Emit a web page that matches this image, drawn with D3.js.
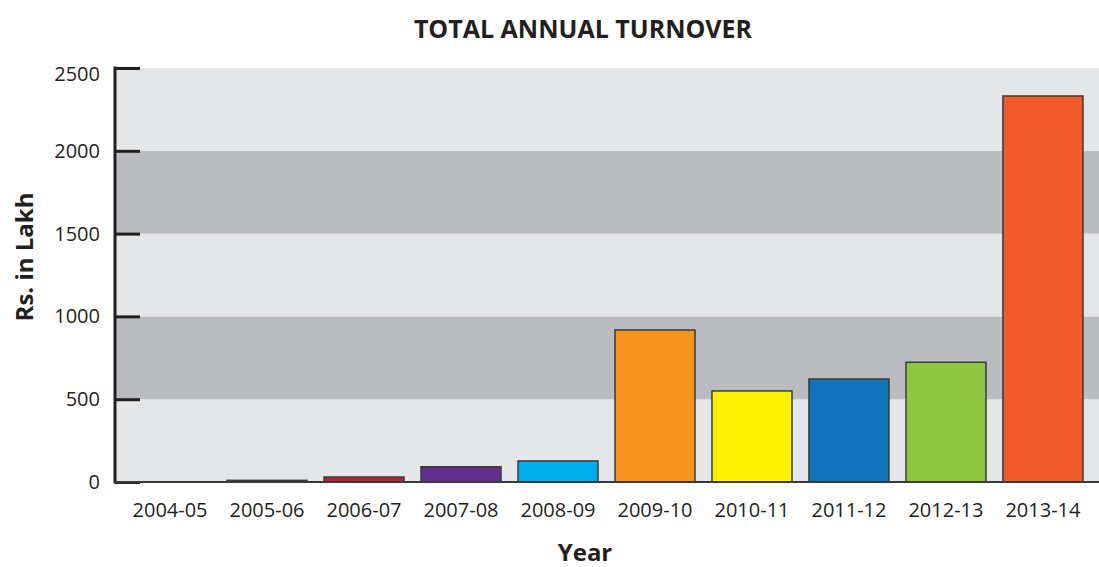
<!DOCTYPE html>
<html>
<head>
<meta charset="utf-8">
<script src="https://cdn.jsdelivr.net/npm/d3@7"></script>
<style>
  body { margin: 0; background: #fff; }
  text { font-family: "Open Sans", sans-serif; fill: #231f20; }
</style>
</head>
<body>
<script>
// data
const years = ["2004-05", "2005-06", "2006-07", "2007-08", "2008-09",
               "2009-10", "2010-11", "2011-12", "2012-13", "2013-14"]
const turnover = [0, 10, 30, 92, 127, 918, 550, 622, 723, 2331]
const barColors = ["#231f20", "#231f20", "#be1e2d", "#662d91", "#00aeef",
                   "#f7941d", "#fff200", "#1074bc", "#8dc63f", "#f15a29"]
const yTicks = [0, 500, 1000, 1500, 2000, 2500]

const w = 1099
const h = 567
const plotLeft = 115
const plotTop = 68
const plotBottom = 482

const svg = d3.select("body")
  .append("svg")
  .attr("width", w)
  .attr("height", h)

const yScale = d3.scaleLinear()
  .domain([0, 2500])
  .range([plotBottom, plotTop])

const xScale = d3.scaleBand()
  .domain(years)
  .range([plotLeft, 1098])
  .paddingInner(0.175)
  .paddingOuter(0.155)

// alternating bands behind the bars
const bands = d3.range(0, 2500, 500)
svg.selectAll("rect.band")
  .data(bands)
  .enter()
  .append("rect")
  .attr("class", "band")
  .attr("x", plotLeft)
  .attr("y", d => yScale(d + 500))
  .attr("width", w - plotLeft)
  .attr("height", d => yScale(d) - yScale(d + 500))
  .attr("fill", (d, i) => i % 2 ? "#bbbcbf" : "#e5e6e8")

// bars
svg.selectAll("rect.bar")
  .data(turnover)
  .enter()
  .append("rect")
  .attr("class", "bar")
  .attr("x", (d, i) => xScale(years[i]))
  .attr("y", d => yScale(d))
  .attr("width", xScale.bandwidth())
  .attr("height", d => plotBottom - yScale(d))
  .attr("fill", (d, i) => barColors[i])
  .attr("stroke", d => d > 0 ? "#3a3a3a" : "none")
  .attr("stroke-width", 1.5)

// y axis, ticks pointing inward
const yAxis = d3.axisRight(yScale)
  .tickValues(yTicks)
  .tickSize(25)
  .tickPadding(0)
  .tickFormat("")
const gy = svg.append("g")
  .attr("transform", "translate(" + plotLeft + ",0)")
  .call(yAxis)
gy.select(".domain").remove()
gy.selectAll(".tick line").attr("stroke", "#231f20").attr("stroke-width", 3)

svg.append("line")
  .attr("x1", plotLeft).attr("x2", plotLeft)
  .attr("y1", plotTop - 1.5).attr("y2", plotBottom + 1.5)
  .attr("stroke", "#231f20").attr("stroke-width", 3)

svg.append("line")
  .attr("x1", plotLeft).attr("x2", w)
  .attr("y1", plotBottom).attr("y2", plotBottom)
  .attr("stroke", "#3a3a3a").attr("stroke-width", 2)

// top label sits a bit below its tick in the original
svg.selectAll("text.ylab")
  .data(yTicks)
  .enter()
  .append("text")
  .attr("class", "ylab")
  .attr("x", 100)
  .attr("y", d => yScale(d) + (d === 2500 ? 13 : 7))
  .attr("text-anchor", "end")
  .style("font-size", "20px")
  .text(d => d)

// x axis labels
const xAxis = d3.axisBottom(xScale).tickSize(0).tickPadding(21)
const gx = svg.append("g")
  .attr("transform", "translate(0," + plotBottom + ")")
  .call(xAxis)
gx.select(".domain").remove()
gx.selectAll("text")
  .style("font-size", "20px")
  .style("font-family", "'Open Sans', sans-serif")
  .attr("fill", "#231f20")

// titles
svg.append("text")
  .attr("x", 583)
  .attr("y", 38)
  .attr("text-anchor", "middle")
  .style("font-size", "25px")
  .style("font-weight", "bold")
  .text("TOTAL ANNUAL TURNOVER")

svg.append("text")
  .attr("x", 585)
  .attr("y", 561)
  .attr("text-anchor", "middle")
  .style("font-size", "24px")
  .style("font-weight", "bold")
  .text("Year")

svg.append("text")
  .attr("transform", "translate(33,257) rotate(-90)")
  .attr("text-anchor", "middle")
  .style("font-size", "24px")
  .style("font-weight", "bold")
  .text("Rs. in Lakh")
</script>
</body>
</html>
